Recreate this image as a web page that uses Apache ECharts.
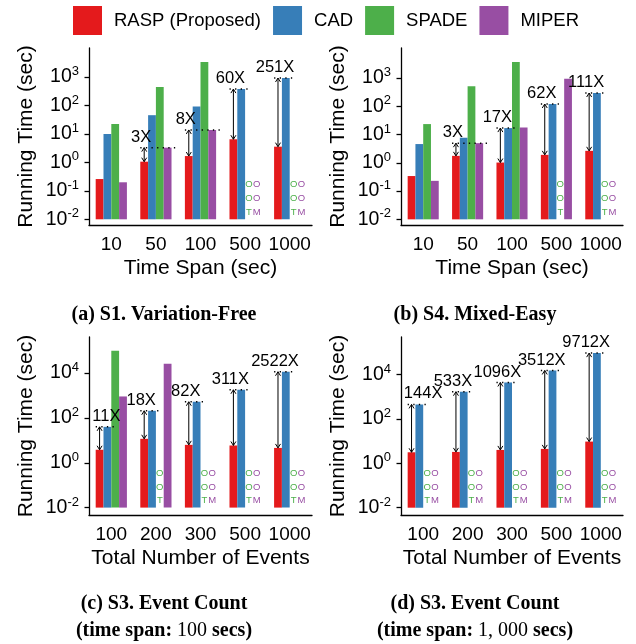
<!DOCTYPE html>
<html>
<head>
<meta charset="utf-8">
<script src="https://cdn.jsdelivr.net/npm/echarts@6/dist/echarts.min.js"></script>
<style>
html, body { margin: 0; padding: 0; background: #fff; }
#main { width: 636px; height: 644px; }
</style>
</head>
<body>
<div id="main"></div>
<script>
// categories
var spanCats = ['10', '50', '100', '500', '1000'];
var eventCats = ['100', '200', '300', '500', '1000'];
var methods = ['RASP (Proposed)', 'CAD', 'SPADE', 'MIPER'];

// y tick exponents (10^k)
var yTicksSpan = [-2, -1, 0, 1, 2, 3];
var yTicksEvents = [-2, 0, 2, 4];

// running time (sec), null = did not finish (SPADE -> OOT, MIPER -> OOM)
// (a) S1 Variation-Free
var raspS1 = [0.26, 1.06, 1.67, 6.5, 3.57];
var cadS1 = [10, 45.6, 92, 377, 922];
var spadeS1 = [22.5, 444, 3400, null, null];
var miperS1 = [0.20, 3.3, 13.8, null, null];
var speedS1 = ['', '3X', '8X', '60X', '251X'];
var speedRefS1 = [null, 'MIPER', 'MIPER', 'CAD', 'CAD'];

// (b) S4 Mixed-Easy
var raspS4 = [0.34, 1.76, 1.02, 1.91, 2.65];
var cadS4 = [4.6, 7.7, 16.9, 120, 294];
var spadeS4 = [23.4, 506, 3690, null, null];
var miperS4 = [0.23, 4.95, 17.8, 947, null];
var speedS4 = ['', '3X', '17X', '62X', '111X'];
var speedRefS4 = [null, 'MIPER', 'CAD', 'CAD', 'CAD'];

// (c) S3 event count, span 100
var raspS3a = [3.8, 11.7, 6.3, 5.9, 4.6];
var cadS3a = [40, 208, 525, 1800, 11460];
var spadeS3a = [100000, null, null, null, null];
var miperS3a = [908, 26100, null, null, null];
var speedS3a = ['11X', '18X', '82X', '311X', '2522X'];
var speedRefS3a = ['CAD', 'CAD', 'CAD', 'CAD', 'CAD'];

// (d) S3 event count, span 1000
var raspS3b = [3.16, 3.28, 4.03, 4.49, 9.6];
var cadS3b = [455, 1700, 4450, 15500, 94000];
var spadeS3b = [null, null, null, null, null];
var miperS3b = [null, null, null, null, null];
var speedS3b = ['144X', '533X', '1096X', '3512X', '9712X'];
var speedRefS3b = ['CAD', 'CAD', 'CAD', 'CAD', 'CAD'];

var colors = ['#E41A1C', '#377EB8', '#4DAF4A', '#984EA3'];
var FONT = '"Liberation Sans", Arial, sans-serif';
var SERIF = '"Liberation Serif", "Times New Roman", serif';
var BASE = -2; // bars grow from 10^-2

var panels = [
    { cats: spanCats, xName: 'Time Span (sec)', vals: [raspS1, cadS1, spadeS1, miperS1],
      speed: speedS1, ref: speedRefS1, ticks: yTicksSpan, yMin: -2.2, yMax: 4.02,
      grid: { left: 89, top: 48, width: 223, height: 177 } },
    { cats: spanCats, xName: 'Time Span (sec)', vals: [raspS4, cadS4, spadeS4, miperS4],
      speed: speedS4, ref: speedRefS4, ticks: yTicksSpan, yMin: -2.2, yMax: 4.06,
      grid: { left: 401, top: 48, width: 222, height: 177 } },
    { cats: eventCats, xName: 'Total Number of Events', vals: [raspS3a, cadS3a, spadeS3a, miperS3a],
      speed: speedS3a, ref: speedRefS3a, ticks: yTicksEvents, yMin: -2.33, yMax: 5.61,
      grid: { left: 89, top: 337, width: 223, height: 178 } },
    { cats: eventCats, xName: 'Total Number of Events', vals: [raspS3b, cadS3b, spadeS3b, miperS3b],
      speed: speedS3b, ref: speedRefS3b, ticks: yTicksEvents, yMin: -2.33, yMax: 5.70,
      grid: { left: 401, top: 337, width: 222, height: 178 } }
];

var grids = [], xAxes = [], yAxes = [], series = [];

panels.forEach(function (p, k) {
    grids.push(p.grid);
    xAxes.push({
        gridIndex: k, type: 'category', data: p.cats,
        name: p.xName, nameLocation: 'middle', nameGap: 33,
        nameTextStyle: { fontSize: 21, color: '#000', fontFamily: FONT },
        axisLine: { onZero: false, lineStyle: { color: '#000', width: 1.3 } },
        axisTick: { alignWithLabel: true, length: 4.5, lineStyle: { color: '#000', width: 1.3 } },
        axisLabel: { fontSize: 19, color: '#000', margin: 10, fontFamily: FONT, interval: 0, hideOverlap: false }
    });
    yAxes.push({
        gridIndex: k, type: 'value', min: p.yMin, max: p.yMax, startValue: BASE,
        name: 'Running Time (sec)', nameLocation: 'middle', nameGap: 52,
        nameTextStyle: { fontSize: 21, color: '#000', fontFamily: FONT },
        axisLine: { show: true, lineStyle: { color: '#000', width: 1.3 } },
        axisTick: { show: true, length: 4.5, customValues: p.ticks, lineStyle: { color: '#000', width: 1.3 } },
        splitLine: { show: false },
        axisLabel: {
            customValues: p.ticks, margin: 10, color: '#000',
            formatter: function (v) { return '{b|10}{s|' + Math.round(v) + '}'; },
            rich: {
                b: { fontSize: 19.5, lineHeight: 24, fontFamily: FONT, color: '#000' },
                s: { fontSize: 13, lineHeight: 13, verticalAlign: 'top', fontFamily: FONT, color: '#000' }
            }
        }
    });

    methods.forEach(function (name, m) {
        series.push({
            name: name, type: 'bar', xAxisIndex: k, yAxisIndex: k,
            barGap: 0, barCategoryGap: '30%',
            itemStyle: { color: colors[m] },
            data: p.vals[m].map(function (v) {
                if (v != null) return Math.log10(v);
                if (m < 2) return null;
                // OOT / OOM marker written vertically in the empty slot
                return {
                    value: BASE, itemStyle: { color: 'rgba(0,0,0,0)' },
                    label: {
                        show: true, position: 'top', distance: 0,
                        formatter: m === 2 ? 'O\nO\nT' : 'O\nO\nM',
                        color: colors[m], fontSize: 9.5, lineHeight: 13.8, fontFamily: FONT
                    }
                };
            })
        });
    });

    // speedup annotations
    var labels = [], annoData = [];
    p.speed.forEach(function (t, i) {
        if (!t) return;
        var r = methods.indexOf(p.ref[i]);
        labels.push(t);
        annoData.push([i, Math.log10(p.vals[0][i]), Math.log10(p.vals[r][i]), r]);
    });
    series.push({
        type: 'custom', xAxisIndex: k, yAxisIndex: k, silent: true, z: 10,
        encode: { x: 0, y: [1, 2] },
        data: annoData,
        renderItem: function (params, api) {
            var cat = api.value(0);
            var band = api.size([1, 0])[0];
            var unit = band * 0.7 / 4;
            var hi = api.coord([cat, api.value(2)]);
            var cx = hi[0], yHi = hi[1];
            var yLo = api.coord([cat, api.value(1)])[1];
            var r = api.value(3);
            var ax = cx - 1.5 * unit;
            var x0 = cx - 2 * unit;
            var x1 = cx + (r - 1) * unit + 0.12 * band;
            var txt = labels[params.dataIndex];
            var w = txt.length * 0.58 * 16.5;
            var tx = cx - 0.33 * band;
            if (tx - w / 2 < params.coordSys.x + 3) tx = params.coordSys.x + 3 + w / 2;
            return {
                type: 'group',
                children: [
                    { type: 'line', shape: { x1: x0, y1: yHi, x2: x1, y2: yHi },
                      style: { stroke: '#000', lineWidth: 1.5, lineDash: [1.3, 4.3] } },
                    { type: 'line', shape: { x1: ax, y1: yLo, x2: ax, y2: yHi },
                      style: { stroke: '#000', lineWidth: 1 } },
                    { type: 'polyline', shape: { points: [[ax - 2.5, yHi + 4], [ax, yHi], [ax + 2.5, yHi + 4]] },
                      style: { stroke: '#000', fill: null, lineWidth: 1 } },
                    { type: 'polyline', shape: { points: [[ax - 2.5, yLo - 4], [ax, yLo], [ax + 2.5, yLo - 4]] },
                      style: { stroke: '#000', fill: null, lineWidth: 1 } },
                    { type: 'text', style: { text: txt, x: tx, y: yHi - 2, fill: '#000',
                      font: '16.5px ' + FONT, align: 'center', verticalAlign: 'bottom' } }
                ]
            };
        }
    });
});

var capFont = 'bold 20px ' + SERIF;
var chart = echarts.init(document.getElementById('main'));
chart.setOption({
    animation: false,
    legend: {
        data: methods, left: 73, top: 6, padding: 0, itemWidth: 29, itemHeight: 29, itemGap: 12,
        icon: 'rect', selectedMode: false,
        textStyle: { fontSize: 18.5, color: '#000', fontFamily: FONT, padding: [0, 0, 0, 7] }
    },
    grid: grids,
    xAxis: xAxes,
    yAxis: yAxes,
    series: series,
    graphic: [
        { type: 'text', x: 164, y: 315, style: { text: '(a) S1. Variation-Free', font: capFont, fill: '#000', align: 'center', verticalAlign: 'middle' } },
        { type: 'text', x: 475, y: 315, style: { text: '(b) S4. Mixed-Easy', font: capFont, fill: '#000', align: 'center', verticalAlign: 'middle' } },
        { type: 'text', x: 164, y: 604, style: { text: '(c) S3. Event Count', font: capFont, fill: '#000', align: 'center', verticalAlign: 'middle' } },
        { type: 'text', x: 164, y: 631, style: { text: '{b|(time span: }{n|100}{b| secs)}', fill: '#000', align: 'center', verticalAlign: 'middle',
            rich: { b: { fontFamily: SERIF, fontWeight: 'bold', fontSize: 20 }, n: { fontFamily: SERIF, fontSize: 20 } } } },
        { type: 'text', x: 475, y: 604, style: { text: '(d) S3. Event Count', font: capFont, fill: '#000', align: 'center', verticalAlign: 'middle' } },
        { type: 'text', x: 475, y: 631, style: { text: '{b|(time span: }{n|1, 000}{b| secs)}', fill: '#000', align: 'center', verticalAlign: 'middle',
            rich: { b: { fontFamily: SERIF, fontWeight: 'bold', fontSize: 20 }, n: { fontFamily: SERIF, fontSize: 20 } } } }
    ]
});
</script>
</body>
</html>
